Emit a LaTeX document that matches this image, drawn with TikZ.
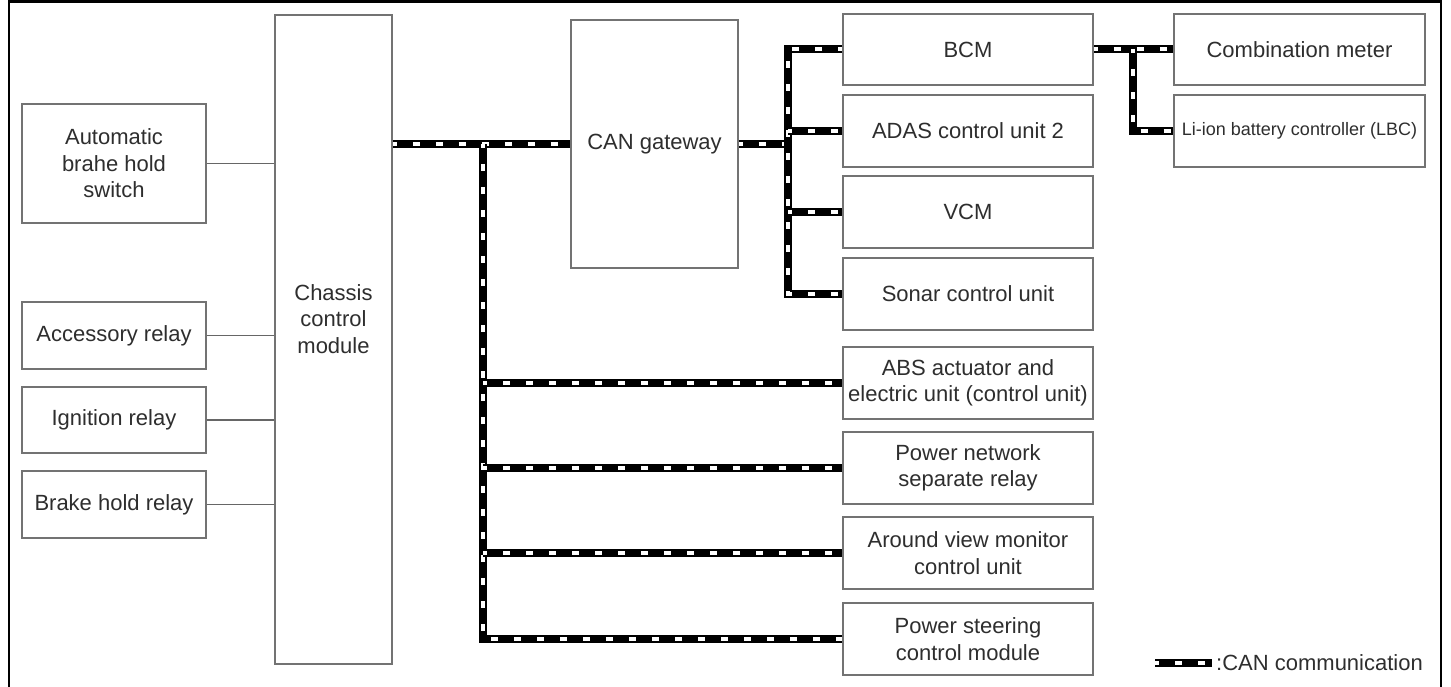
\documentclass[tikz,border=0pt]{standalone}
\usepackage{fontspec}
\setmainfont{Liberation Sans}
\begin{document}
\begin{tikzpicture}[x=1pt,y=-1pt,
  box/.style={draw=black!55, line width=1.8pt, fill=white, align=center, inner sep=0pt,
    text=black!82, font=\fontsize{22}{26.5}\selectfont},
  plain/.style={text=black!82, font=\fontsize{22}{26.5}\selectfont, align=center, inner sep=0pt},
  wire/.style={draw=black!60, line width=1.2pt},
  can/.style={draw=black, line width=8pt, line join=miter,
    postaction={draw=white, line width=4pt, dash pattern=on 7pt off 16pt, dash phase=3pt}},
  frame/.style={draw=black, line width=2.6pt}]
\useasboundingbox (0,0) rectangle (1451,687);
\draw[frame] (9,695) -- (9,1.3) -- (1441,1.3) -- (1441,695);

% left column
\node[box, minimum width=184pt, minimum height=119pt] (ahs) at (114,163.5) {Automatic\\brahe hold\\switch};
\node[box, minimum width=184pt, minimum height=67pt] (acc) at (114,335.5) {Accessory relay};
\node[box, minimum width=184pt, minimum height=66pt] (ign) at (114,420) {Ignition relay};
\node[box, minimum width=184pt, minimum height=67pt] (brk) at (114,504.5) {Brake hold relay};

% chassis control module
\node[box, minimum width=117pt, minimum height=649pt] (ccm) at (333.5,339.5) {};
\node[plain] (ccmt) at (333.5,319) {Chassis\\control\\module};

% gateway
\node[box, minimum width=167pt, minimum height=248pt] (gw) at (654.5,144) {CAN gateway};

% right column
\node[box, minimum width=250pt, minimum height=71pt] (bcm) at (968,49.5) {BCM};
\node[box, minimum width=250pt, minimum height=72pt] (adas) at (968,131) {ADAS control unit 2};
\node[box, minimum width=250pt, minimum height=72pt] (vcm) at (968,212) {VCM};
\node[box, minimum width=250pt, minimum height=72pt] (son) at (968,294) {Sonar control unit};
\node[box, minimum width=250pt, minimum height=72pt] (abs) at (968,383) {ABS actuator and\\electric unit (control unit)};
\node[box, minimum width=250pt, minimum height=72pt] (pnr) at (968,468) {Power network\\separate relay};
\node[box, minimum width=250pt, minimum height=72pt] (avm) at (968,553) {Around view monitor\\control unit};
\node[box, minimum width=250pt, minimum height=72pt] (psc) at (968,639) {Power steering\\control module};

\node[box, minimum width=251pt, minimum height=71pt] (comb) at (1299.5,49.5) {Combination meter};
\node[box, minimum width=251pt, minimum height=72pt, font=\fontsize{18}{21}\selectfont] (lbc) at (1299.5,131) {Li-ion battery controller (LBC)};

% plain wires
\draw[wire] (ahs.east) -- (ahs.east -| ccm.west);
\draw[wire] (acc.east) -- (acc.east -| ccm.west);
\draw[wire] (ign.east) -- (ign.east -| ccm.west);
\draw[wire] (brk.east) -- (brk.east -| ccm.west);

% CAN bus
\coordinate (j1) at (483,144);
\coordinate (j2) at (788,144);
\coordinate (j3) at (1133,49.5);

\draw[can] (ccm.east |- gw.west) -- (gw.west);
\draw[can] (j1) -- (j1 |- psc.west) -- (psc.west);
\draw[can] (j1 |- abs.west) -- (abs.west);
\draw[can] (j1 |- pnr.west) -- (pnr.west);
\draw[can] (j1 |- avm.west) -- (avm.west);

\draw[can] (gw.east) -- (j2);
\draw[can] (bcm.west) -- (j2 |- bcm.west) -- (j2 |- son.west) -- (son.west);
\draw[can] (j2 |- adas.west) -- (adas.west);
\draw[can] (j2 |- vcm.west) -- (vcm.west);

\draw[can] (bcm.east) -- (comb.west);
\draw[can] (j3) -- (j3 |- lbc.west) -- (lbc.west);

% legend
\coordinate (lga) at (1155,663);
\coordinate (lgb) at (1212,663);
\draw[can] (lga) -- (lgb);
\node[plain, anchor=west] (lgt) at (1216,663) {:CAN communication};
\end{tikzpicture}
\end{document}
